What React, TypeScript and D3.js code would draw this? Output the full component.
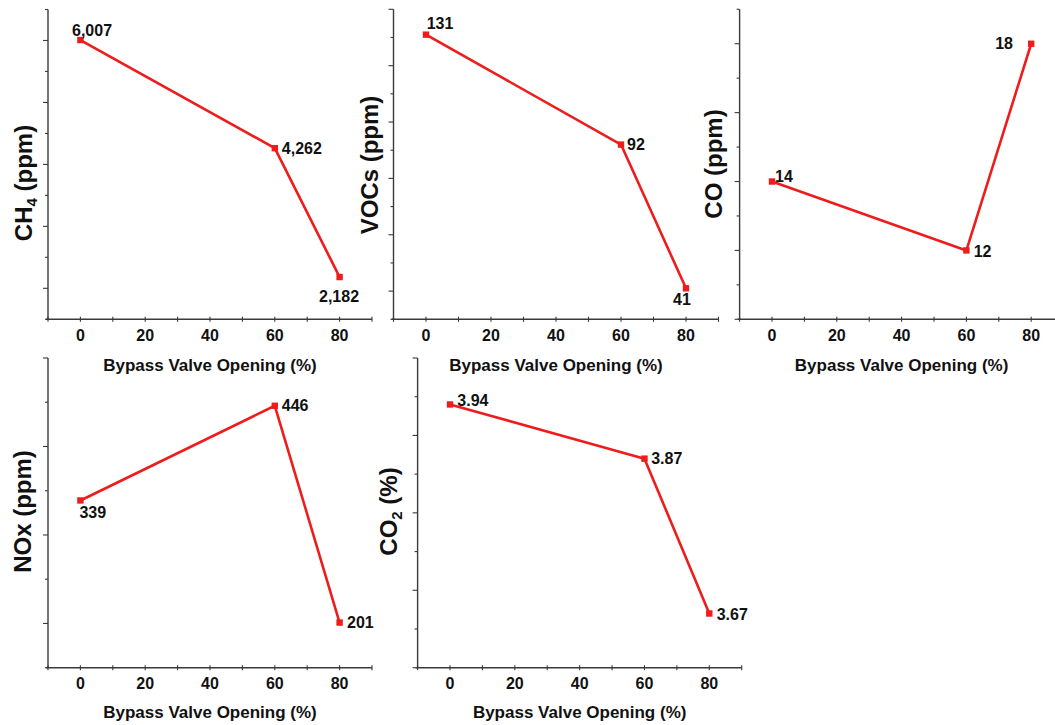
import React from "react";
import * as d3 from "d3";

// ---------- data ----------
const bypassOpening = [0, 60, 80];
const ch4Values = [6007, 4262, 2182];
const vocValues = [131, 92, 41];
const coValues = [14, 12, 18];
const noxValues = [339, 446, 201];
const co2Values = [3.94, 3.87, 3.67];
const xTickLabels = [0, 20, 40, 60, 80];
const xTitle = "Bypass Valve Opening (%)";

// ---------- layout / style (kept apart from data) ----------
type Panel = {
  key: string;
  values: number[];
  fmt: (v: number) => string;
  title: [string, string, string]; // main, subscript, rest
  left: number; right: number; top: number; bottom: number;
  yDomain: [number, number];
  yStep: number; yMajor: number;
  titleX: number; titleY: number;
  xTitleDy: number;
  labelOffsets: [number, number][];
};

const FONT = "'Liberation Sans', Arial, Helvetica, sans-serif";
const RED = "#ee1c1c";
const AXIS = "#3a3a3a";

const panels: Panel[] = [
  {
    key: "ch4", values: ch4Values, fmt: d3.format(","),
    title: ["CH", "4", " (ppm)"],
    left: 48, right: 372, top: 9.5, bottom: 319.3,
    yDomain: [1500, 6500], yStep: 500, yMajor: 1000,
    titleX: 32, titleY: 183, xTitleDy: 52,
    labelOffsets: [[-8.4, -4], [7, 5.7], [-20.6, 24.7]],
  },
  {
    key: "voc", values: vocValues, fmt: d3.format("d"),
    title: ["VOCs (ppm)", "", ""],
    left: 393.5, right: 718.5, top: 9.3, bottom: 319.3,
    yDomain: [30, 140], yStep: 10, yMajor: 20,
    titleX: 378, titleY: 165, xTitleDy: 52,
    labelOffsets: [[0.7, -6], [6, 5.7], [-13, 17]],
  },
  {
    key: "co", values: coValues, fmt: d3.format("d"),
    title: ["CO (ppm)", "", ""],
    left: 739.6, right: 1063.6, top: 9.3, bottom: 319.3,
    yDomain: [10, 19], yStep: 1, yMajor: 2,
    titleX: 722, titleY: 164, xTitleDy: 52,
    labelOffsets: [[3, 0.5], [7.3, 6.4], [-36, 5.3]],
  },
  {
    key: "nox", values: noxValues, fmt: d3.format("d"),
    title: ["NOx (ppm)", "", ""],
    left: 48, right: 372, top: 358, bottom: 667.7,
    yDomain: [150, 500], yStep: 50, yMajor: 100,
    titleX: 30.5, titleY: 511.5, xTitleDy: 50,
    labelOffsets: [[-1, 17.4], [7, 5.4], [7.4, 5.7]],
  },
  {
    key: "co2", values: co2Values, fmt: d3.format(".2f"),
    title: ["CO", "2", " (%)"],
    left: 417.6, right: 741.7, top: 358, bottom: 667.7,
    yDomain: [3.6, 4.0], yStep: 0.05, yMajor: 0.1,
    titleX: 396.5, titleY: 511.5, xTitleDy: 50,
    labelOffsets: [[7.3, 1.7], [6.7, 5.7], [7.4, 6.4]],
  },
];

function PanelView({ p }: { p: Panel }) {
  const x = d3.scaleLinear().domain([-10, 90]).range([p.left, p.right]);
  const y = d3.scaleLinear().domain(p.yDomain).range([p.bottom, p.top]);
  const n = Math.round((p.yDomain[1] - p.yDomain[0]) / p.yStep);
  const yTicks = d3.range(n + 1).map((i) => p.yDomain[0] + i * p.yStep);
  const xTicks = d3.range(-10, 91, 10);
  const pts = bypassOpening.map((b, i) => [b, p.values[i]] as [number, number]);
  const line = d3.line<[number, number]>().x((d) => x(d[0])).y((d) => y(d[1]));
  const isMajor = (v: number) => {
    const r = v / p.yMajor;
    return Math.abs(r - Math.round(r)) < 1e-6;
  };
  const cx = (p.left + p.right) / 2;
  return (
    <g>
      {/* axes */}
      <line x1={p.left} x2={p.left} y1={p.top} y2={p.bottom} stroke={AXIS} strokeWidth={1.4} />
      <line x1={p.left - 2} x2={p.right} y1={p.bottom} y2={p.bottom} stroke={AXIS} strokeWidth={1.4} />
      {yTicks.map((v) => (
        <line key={"y" + v} x1={p.left} x2={p.left - (isMajor(v) ? 5 : 3)} y1={y(v)} y2={y(v)}
          stroke={AXIS} strokeWidth={1.1} />
      ))}
      {xTicks.map((v) => (
        <line key={"x" + v} x1={x(v)} x2={x(v)} y1={p.bottom - 2.5} y2={p.bottom + 2.5}
          stroke={AXIS} strokeWidth={1.1} />
      ))}
      {xTickLabels.map((v) => (
        <text key={"xl" + v} x={x(v)} y={p.bottom + 21.5} textAnchor="middle"
          fontFamily={FONT} fontWeight="bold" fontSize={16} fill="#111">{v}</text>
      ))}
      <text x={cx} y={p.bottom + p.xTitleDy} textAnchor="middle" fontFamily={FONT}
        fontWeight="bold" fontSize={17} fill="#111">{xTitle}</text>
      <text transform={`translate(${p.titleX},${p.titleY}) rotate(-90)`} textAnchor="middle"
        fontFamily={FONT} fontWeight="bold" fontSize={24} fill="#111">
        {p.title[0]}
        {p.title[1] && <tspan fontSize={15} dy={5}>{p.title[1]}</tspan>}
        {p.title[2] && <tspan dy={p.title[1] ? -5 : 0}>{p.title[2]}</tspan>}
      </text>
      {/* series */}
      <path d={line(pts) || ""} fill="none" stroke={RED} strokeWidth={2.6} strokeLinejoin="round" />
      {pts.map((d, i) => (
        <rect key={"m" + i} x={x(d[0]) - 3.2} y={y(d[1]) - 3.2} width={6.4} height={6.4} fill={RED} />
      ))}
      {pts.map((d, i) => (
        <text key={"t" + i} x={x(d[0]) + p.labelOffsets[i][0]} y={y(d[1]) + p.labelOffsets[i][1]}
          fontFamily={FONT} fontWeight="bold" fontSize={16} fill="#111">{p.fmt(d[1])}</text>
      ))}
    </g>
  );
}

export default function App() {
  return (
    <svg width={1055} height={725} style={{ position: "absolute", left: 0, top: 0, background: "#fff" }}>
      <rect width={1055} height={725} fill="#fff" />
      {panels.map((p) => <PanelView key={p.key} p={p} />)}
    </svg>
  );
}
